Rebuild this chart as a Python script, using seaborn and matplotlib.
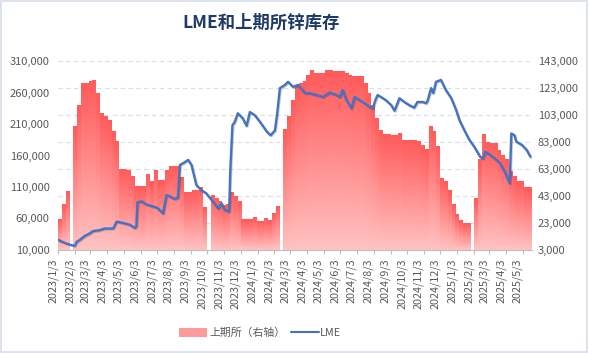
import numpy as np
import pandas as pd
import matplotlib
matplotlib.use('Agg')
import matplotlib.pyplot as plt
import matplotlib.dates as mdates
import matplotlib.patheffects as pe
from matplotlib.colors import LinearSegmentedColormap
from matplotlib.patches import Rectangle
from matplotlib.lines import Line2D
from matplotlib.ticker import FuncFormatter
import seaborn as sns

TITLE = 'LME和上期所锌库存'

# SHFE weekly zinc stocks (t, right axis), one value per Friday from 2023/1/6; None = holiday week
shfe_start = '2023-01-06'
shfe_values = [
    25700, 37000, 46200, None, 94300, 110400, 126500, 126500, 127700, 129000,
    119000, 104000, 101700, 99300, 90600, 83200, 62800, 62800, 62300, 57300,
    50400, 50000, 50000, 58600, 53600, 62300, 54800, 54800, 62300, 64700,
    65000, 65000, 56500, 45400, 45400, 47400, 47400, 49400, 34600, None,
    43700, 41300, 38800, 36300, 37000, 45400, 42500, 38800, 25700, 25700,
    25700, 27000, 24000, 24000, 26300, 24900, 30200, 35600, None, 92400,
    101700, 114000, 124000, 126500, 127700, 132600, 136000, 133900, 133900, 133900,
    136000, 136000, 135000, 135000, 135000, 133900, 132600, 131400, 131400, 131400,
    126500, 119000, 110400, 100500, 91900, 88900, 88900, 88200, 88200, 89400,
    84000, 84000, 84500, 84500, 83200, 80800, 77600, 94300, 90600, 79500,
    56000, 53500, 47000, 37000, 29000, 25000, 23000, 23000, None, 41300,
    70400, 88700, 82800, 82000, 82000, 77000, 73400, 70000, 61500, 57300,
    53600, 53600, 49100, 49100,
]

# LME zinc stocks (t, left axis)
lme_dates = [
    '2023-01-03', '2023-01-10', '2023-01-20', '2023-01-30', '2023-02-02', '2023-02-06',
    '2023-02-13', '2023-02-20', '2023-03-01', '2023-03-08', '2023-03-20', '2023-03-29',
    '2023-04-11', '2023-04-14', '2023-04-20', '2023-05-01', '2023-05-14', '2023-05-23',
    '2023-05-26', '2023-05-28', '2023-06-05', '2023-06-14', '2023-06-26', '2023-07-03',
    '2023-07-08', '2023-07-14', '2023-07-20', '2023-07-27', '2023-08-04', '2023-08-10',
    '2023-08-14', '2023-08-22', '2023-08-29', '2023-09-04', '2023-09-13', '2023-09-22',
    '2023-10-01', '2023-10-13', '2023-10-23', '2023-10-29', '2023-11-04', '2023-11-12',
    '2023-11-14', '2023-11-18', '2023-11-22', '2023-11-28', '2023-12-07', '2023-12-14',
    '2023-12-20', '2023-12-29', '2024-01-07', '2024-01-20', '2024-01-27', '2024-02-04',
    '2024-02-08', '2024-02-13', '2024-02-22', '2024-02-28', '2024-03-08', '2024-03-17',
    '2024-03-30', '2024-04-08', '2024-04-20', '2024-05-02', '2024-05-14', '2024-05-24',
    '2024-06-02', '2024-06-07', '2024-06-14', '2024-06-23', '2024-06-29', '2024-07-08',
    '2024-07-17', '2024-07-29', '2024-08-01', '2024-08-06', '2024-08-10', '2024-08-16',
    '2024-08-25', '2024-09-04', '2024-09-10', '2024-09-19', '2024-09-28', '2024-10-07',
    '2024-10-16', '2024-10-22', '2024-11-01', '2024-11-07', '2024-11-10', '2024-11-16',
    '2024-11-20', '2024-11-25', '2024-12-04', '2024-12-13', '2024-12-23', '2025-01-01',
    '2025-01-07', '2025-01-16', '2025-01-25', '2025-02-03', '2025-02-14', '2025-02-19',
    '2025-02-23', '2025-03-04', '2025-03-13', '2025-03-22', '2025-03-31', '2025-04-09',
    '2025-04-12', '2025-04-18', '2025-04-21', '2025-05-01', '2025-05-10', '2025-05-17',
]
lme_values = [
    26000, 23000, 19500, 17000, 16500, 23000,
    27000, 32000, 36000, 40000, 41500, 44000,
    44000, 44500, 55000, 53000, 50000, 45000,
    47000, 86000, 87000, 82000, 79000, 77000,
    73000, 68000, 97000, 95000, 91000, 93000,
    145000, 149000, 153000, 145000, 113000, 105000,
    100000, 87000, 76000, 84000, 73500, 71000,
    134000, 208000, 213000, 227000, 219000, 207000,
    229000, 224000, 214000, 198000, 192000, 200000,
    227000, 267000, 272000, 277000, 269000, 272000,
    259000, 259000, 256000, 253000, 260000, 257000,
    253000, 264000, 248000, 235000, 253000, 248000,
    243000, 236000, 235000, 248000, 256000, 253000,
    248000, 240000, 231000, 251000, 245000, 240000,
    236000, 245000, 245000, 243000, 248000, 267000,
    259000, 277000, 280000, 264000, 251000, 232000,
    216000, 200000, 185000, 174000, 158000, 155000,
    166000, 161000, 155000, 148000, 134000, 116000,
    195000, 192000, 182000, 177000, 169000, 158000,
]

x_tick_labels = [
    '2023/1/3', '2023/2/3', '2023/3/3', '2023/4/3', '2023/5/3', '2023/6/3', '2023/7/3',
    '2023/8/3', '2023/9/3', '2023/10/3', '2023/11/3', '2023/12/3', '2024/1/3', '2024/2/3',
    '2024/3/3', '2024/4/3', '2024/5/3', '2024/6/3', '2024/7/3', '2024/8/3', '2024/9/3',
    '2024/10/3', '2024/11/3', '2024/12/3', '2025/1/3', '2025/2/3', '2025/3/3', '2025/4/3',
    '2025/5/3',
]
left_ticks = [10000, 60000, 110000, 160000, 210000, 260000, 310000]
right_ticks = [3000, 23000, 43000, 63000, 83000, 103000, 123000, 143000]

LINE_COLOR = '#4472C4'
TEXT_COLOR = '#595959'


def main():
    sns.set_theme(style='white')
    plt.rcParams['font.family'] = ['Noto Sans CJK SC', 'DejaVu Sans']

    shfe = pd.DataFrame({
        'date': pd.date_range(shfe_start, periods=len(shfe_values), freq='7D'),
        'stock': pd.to_numeric(pd.Series(shfe_values), errors='coerce'),
    }).dropna()
    shfe['x'] = mdates.date2num(shfe['date'])

    lme = pd.DataFrame({'date': pd.to_datetime(lme_dates), 'stock': lme_values})
    lme['x'] = mdates.date2num(lme['date'])

    tick_x = mdates.date2num(pd.to_datetime(x_tick_labels, format='%Y/%m/%d'))
    x_left = mdates.date2num(pd.Timestamp('2023-01-02 12:00'))
    x_right = mdates.date2num(pd.Timestamp('2025-05-20'))

    fig = plt.figure(figsize=(5.89, 3.53), dpi=100)
    ax = fig.add_axes([0.0985, 0.292, 0.8048, 0.535])
    ax2 = ax.twinx()

    # SHFE bars (right axis), drawn underneath the LME line
    sns.barplot(data=shfe, x='x', y='stock', native_scale=True, width=1,
                color='#FF8A8A', saturation=1, errorbar=None, linewidth=0,
                ax=ax2)
    cmap = LinearSegmentedColormap.from_list('shfe', ['#FFC2C2', '#FF5B5B'])
    grad = np.linspace(0, 1, 64).reshape(-1, 1)
    for bar in list(ax2.patches):
        x0, w, h = bar.get_x(), bar.get_width(), bar.get_height()
        ax2.imshow(grad, cmap=cmap, origin='lower', aspect='auto',
                   interpolation='bilinear',
                   extent=(x0, x0 + w, right_ticks[0], h),
                   zorder=bar.get_zorder() + 0.1)

    # LME line (left axis)
    sns.lineplot(data=lme, x='x', y='stock', ax=ax, color=LINE_COLOR,
                 linewidth=1.7)
    ax.lines[0].set_path_effects([
        pe.SimpleLineShadow(offset=(0.6, -0.6), alpha=0.25),
        pe.Normal(),
    ])

    ax.set_zorder(ax2.get_zorder() + 1)
    ax.patch.set_visible(False)

    ax.set_xlim(x_left, x_right)
    ax2.set_xlim(x_left, x_right)
    ax.set_ylim(left_ticks[0], left_ticks[-1])
    ax2.set_ylim(right_ticks[0], right_ticks[-1])

    ax.set_yticks(left_ticks)
    ax2.set_yticks(right_ticks)
    fmt = FuncFormatter(lambda v, p: f'{v:,.0f}')
    ax.yaxis.set_major_formatter(fmt)
    ax2.yaxis.set_major_formatter(fmt)

    ax.set_xticks(tick_x)
    ax.set_xticklabels(x_tick_labels, rotation=90, ha='right', va='top')

    ax.tick_params(axis='x', bottom=True, length=3, width=0.8,
                   color='#BFBFBF', pad=3, labelsize=7.8, labelcolor=TEXT_COLOR)
    ax.tick_params(axis='y', left=False, length=0, pad=6, labelsize=8,
                   labelcolor=TEXT_COLOR)
    ax2.tick_params(axis='y', right=False, length=0, pad=4, labelsize=8,
                    labelcolor=TEXT_COLOR)

    ax2.yaxis.grid(True, linestyle=(0, (4, 3)), color='#D9DDE6', linewidth=0.8)
    ax2.set_axisbelow(True)

    for name, spine in ax.spines.items():
        spine.set_visible(name == 'bottom')
    ax.spines['bottom'].set_color('#BFBFBF')
    ax.spines['bottom'].set_linewidth(0.8)
    for spine in ax2.spines.values():
        spine.set_visible(False)

    ax.set_xlabel('')
    ax.set_ylabel('')
    ax2.set_xlabel('')
    ax2.set_ylabel('')

    fig.text(0.443, 1 - 22.5 / 353, TITLE, ha='center', va='center',
             fontsize=12.5, fontweight='bold', color='#1F3A68')

    handles = [
        Rectangle((0, 0), 1, 1, facecolor='#FF9A9A', edgecolor='none'),
        Line2D([], [], color=LINE_COLOR, linewidth=1.5),
    ]
    fig.legend(handles, ['上期所（右轴）', 'LME'], loc='center',
               bbox_to_anchor=(0.442, 1 - 333 / 353), ncol=2, frameon=False,
               fontsize=7.8, handlelength=2.6, handleheight=1.0,
               handletextpad=0.15, columnspacing=0.5, labelcolor=TEXT_COLOR)

    fig.add_artist(Rectangle((0.002, 0.003), 0.995, 0.993,
                             transform=fig.transFigure, fill=False,
                             edgecolor='#D6DEEA', linewidth=1.2))

    fig.savefig('out.png', dpi=100)


if __name__ == '__main__':
    main()
